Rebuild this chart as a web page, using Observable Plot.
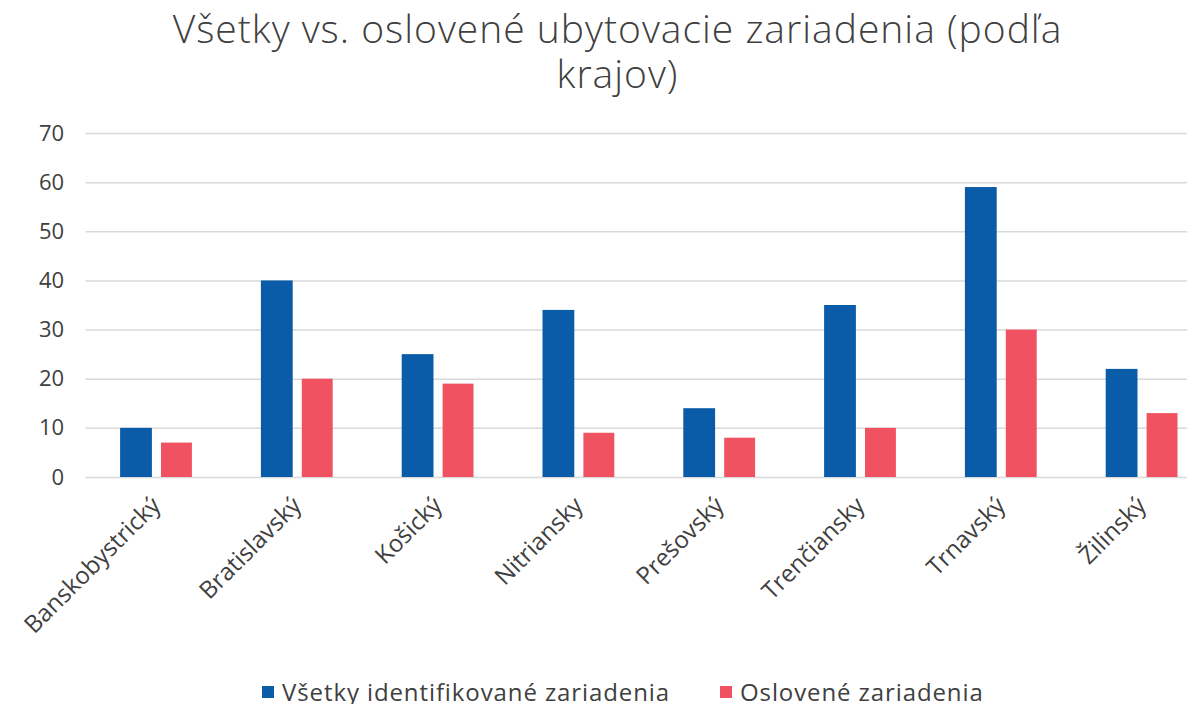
<!DOCTYPE html>
<html>
<head>
<meta charset="utf-8">
<script src="https://cdn.jsdelivr.net/npm/d3@7"></script>
<script src="https://cdn.jsdelivr.net/npm/@observablehq/plot@0.6"></script>
<style>
  html, body { margin: 0; padding: 0; background: #fff; overflow: hidden; width: 1187px; height: 704px; }
  body { position: relative; font-family: "Open Sans", "Noto Sans", sans-serif; color: #404040; }
  #title { position: absolute; left: 48px; top: 5px; width: 1139px; text-align: center; font-size: 39px; font-weight: 300; line-height: 45px; letter-spacing: 1px; color: #404040; }
  #chart { position: absolute; left: 0; top: 110px; }
  #legend { position: absolute; left: 0; top: 675px; width: 1187px; font-size: 24px; font-weight: 400; letter-spacing: 0.9px; color: #404040; white-space: nowrap; }
  .item { position: absolute; top: 0; display: flex; align-items: center; }
  .sw { width: 12px; height: 12px; margin-right: 8px; }
</style>
</head>
<body>
<div id="title">Všetky vs. oslovené ubytovacie zariadenia (podľa<br>krajov)</div>
<div id="chart"></div>
<div id="legend"></div>
<script>
const categories = ["Banskobystrický", "Bratislavský", "Košický", "Nitriansky", "Prešovský", "Trenčiansky", "Trnavský", "Žilinský"];
const seriesNames = ["Všetky identifikované zariadenia", "Oslovené zariadenia"];
const allValues = [10, 40, 25, 34, 14, 35, 59, 22];
const contactedValues = [7, 20, 19, 9, 8, 10, 30, 13];
const seriesColors = ["#0b5ca8", "#f05262"];
const yTicks = [0, 10, 20, 30, 40, 50, 60, 70];

const rows = categories.map((c, i) => ({category: c, all: allValues[i], contacted: contactedValues[i]}));

const chart = Plot.plot({
  width: 1187,
  height: 540,
  marginLeft: 85.6,
  marginRight: 0,
  marginTop: 23,
  marginBottom: 173,
  style: {fontFamily: "Open Sans, Noto Sans, sans-serif", fontSize: "21px", color: "#404040", background: "#fff"},
  x: {domain: categories, range: [85.6, 1212], padding: 0, round: false, label: null},
  y: {domain: [0, 70], label: null},
  marks: [
    Plot.ruleY(yTicks, {stroke: "#d9d9d9", strokeWidth: 1.5}),
    Plot.barY(rows, {x: "category", y: "all", fill: seriesColors[0], insetLeft: 34.5, insetRight: 74.5}),
    Plot.barY(rows, {x: "category", y: "contacted", fill: seriesColors[1], insetLeft: 75.4, insetRight: 34.5}),
    Plot.axisY({ticks: yTicks, tickSize: 0, tickPadding: 22, fontSize: 22, label: null, style: {letterSpacing: "1px"}}),
    Plot.axisX({tickSize: 0, tickRotate: -45, tickPadding: 24, fontSize: 24, label: null, style: {letterSpacing: "1.3px"}})
  ]
});
document.getElementById("chart").appendChild(chart);

const legend = document.getElementById("legend");
const lefts = [262, 720];
seriesNames.forEach((name, i) => {
  const item = document.createElement("div");
  item.className = "item";
  item.style.left = lefts[i] + "px";
  const sw = document.createElement("span");
  sw.className = "sw";
  sw.style.background = seriesColors[i];
  const t = document.createElement("span");
  t.textContent = name;
  item.appendChild(sw);
  item.appendChild(t);
  legend.appendChild(item);
});
</script>
</body>
</html>
